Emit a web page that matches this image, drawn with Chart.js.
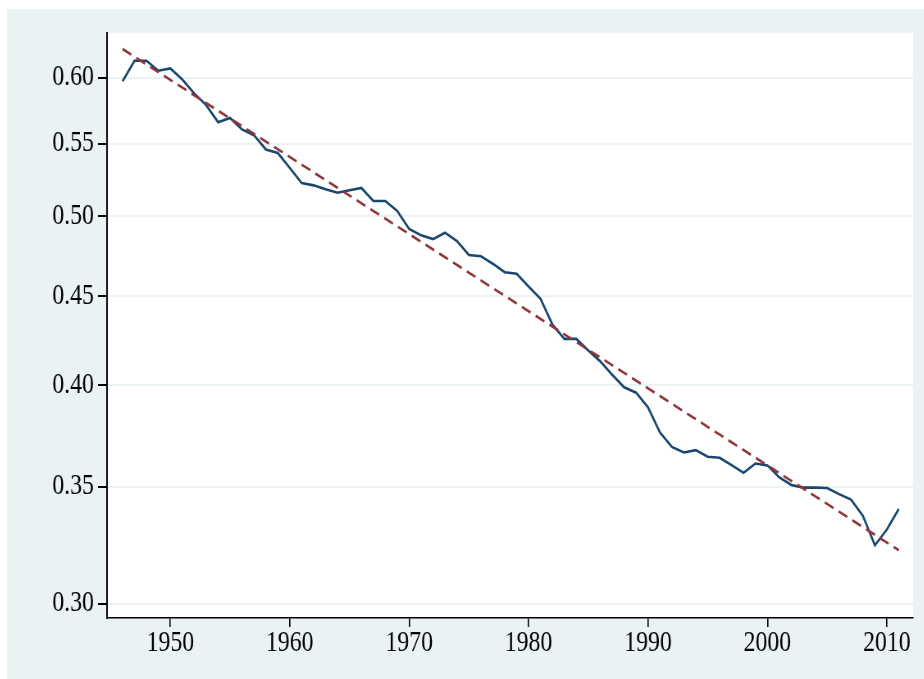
<!DOCTYPE html>
<html>
<head>
<meta charset="utf-8">
<script src="https://cdn.jsdelivr.net/npm/chart.js@4"></script>
<style>
  html, body { margin: 0; padding: 0; background: #fff; }
  #wrap { position: absolute; left: 7px; top: 9px; width: 917px; height: 670px; background: #eaf2f3; overflow: hidden; }
  /* the reference is squeezed sideways, text looks tall and narrow */
  #chart { transform: scaleX(0.82); transform-origin: 0 0; }
</style>
</head>
<body>
<div id="wrap"><canvas id="chart" width="1118" height="670"></canvas></div>
<script>
// series
const years = [1946, 1947, 1948, 1949, 1950, 1951, 1952, 1953, 1954, 1955,
  1956, 1957, 1958, 1959, 1960, 1961, 1962, 1963, 1964, 1965,
  1966, 1967, 1968, 1969, 1970, 1971, 1972, 1973, 1974, 1975,
  1976, 1977, 1978, 1979, 1980, 1981, 1982, 1983, 1984, 1985,
  1986, 1987, 1988, 1989, 1990, 1991, 1992, 1993, 1994, 1995,
  1996, 1997, 1998, 1999, 2000, 2001, 2002, 2003, 2004, 2005,
  2006, 2007, 2008, 2009, 2010, 2011];
const shareValues = [0.5972, 0.6136, 0.6136, 0.6056, 0.6075, 0.5987, 0.5878, 0.5788, 0.5659, 0.5691,
  0.5605, 0.5563, 0.5459, 0.5434, 0.5328, 0.5223, 0.5207, 0.5180, 0.5157, 0.5173,
  0.5189, 0.5101, 0.5101, 0.5034, 0.4916, 0.4875, 0.4851, 0.4892, 0.4838, 0.4750,
  0.4743, 0.4696, 0.4644, 0.4634, 0.4557, 0.4484, 0.4334, 0.4253, 0.4253, 0.4188,
  0.4129, 0.4057, 0.3990, 0.3962, 0.3886, 0.3760, 0.3689, 0.3662, 0.3673, 0.3641,
  0.3636, 0.3601, 0.3565, 0.3609, 0.3600, 0.3543, 0.3508, 0.3496, 0.3496, 0.3494,
  0.3466, 0.3441, 0.3368, 0.3240, 0.3308, 0.3399];

// fitted trend (straight on the log axis), end points
const trendYears = [1946, 2011];
const trendValues = [0.6232, 0.3219];

const xTicks = [1950, 1960, 1970, 1980, 1990, 2000, 2010];
const yTicks = [0.30, 0.35, 0.40, 0.45, 0.50, 0.55, 0.60];

const toPoints = (xs, ys) => xs.map((x, i) => ({ x: x, y: ys[i] }));

// white plot region on the grey background
const plotBg = {
  id: 'plotBg',
  beforeDraw(chart) {
    const a = chart.chartArea;
    const ctx = chart.ctx;
    ctx.save();
    ctx.fillStyle = '#ffffff';
    ctx.fillRect(a.left, a.top, a.right - a.left, a.bottom - a.top);
    ctx.restore();
  }
};

const font = { family: "'Liberation Serif', 'DejaVu Serif', serif", size: 29, lineHeight: 1 };

new Chart(document.getElementById('chart'), {
  type: 'line',
  data: {
    datasets: [{
      data: toPoints(years, shareValues),
      borderColor: '#1a476f',
      borderWidth: 2.6,
      pointRadius: 0,
      tension: 0,
      order: 2
    }, {
      data: toPoints(trendYears, trendValues),
      borderColor: '#90353b',
      borderWidth: 2.6,
      borderDash: [12, 7],
      pointRadius: 0,
      order: 1
    }]
  },
  options: {
    responsive: false,
    animation: false,
    layout: { padding: { top: 24, right: 13, left: 0, bottom: 19 } },
    plugins: { legend: { display: false }, tooltip: { enabled: false } },
    scales: {
      x: {
        type: 'linear',
        min: 1944.7,
        max: 2012.2,
        afterBuildTicks: (scale) => { scale.ticks = xTicks.map(v => ({ value: v })); },
        ticks: { font: font, color: '#000', padding: 2, maxRotation: 0, callback: (v) => String(v) },
        grid: { drawOnChartArea: false, tickColor: '#000', tickLength: 9, lineWidth: 1.6 },
        border: { color: '#000', width: 1.5 }
      },
      y: {
        type: 'logarithmic',
        min: 0.2944,
        max: 0.6365,
        afterBuildTicks: (scale) => { scale.ticks = yTicks.map(v => ({ value: v })); },
        afterFit: (scale) => { scale.width = 122; },
        ticks: { font: font, color: '#000', padding: 5, callback: (v) => Number(v).toFixed(2) },
        grid: { color: '#eaf2f3', lineWidth: 2, tickColor: '#000', tickLength: 11 },
        border: { color: '#000', width: 1.9 }
      }
    }
  },
  plugins: [plotBg]
});
</script>
</body>
</html>
